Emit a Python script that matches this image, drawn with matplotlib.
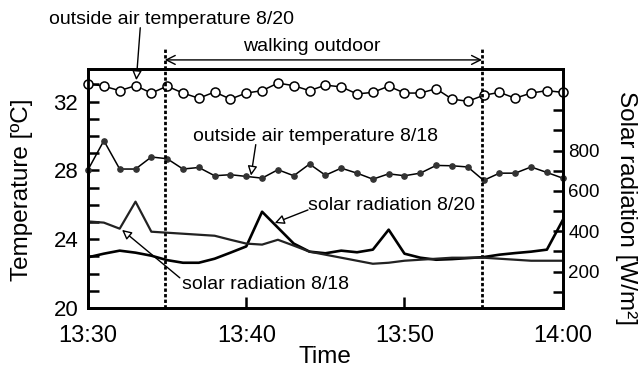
import numpy as np
import matplotlib
matplotlib.use("Agg")
import matplotlib.pyplot as plt
import matplotlib.transforms as mtransforms

plt.rcParams['font.family'] = ['Liberation Sans', 'DejaVu Sans']

# minutes after 13:30, sampled every minute
minutes = [0, 1, 2, 3, 4, 5, 6, 7, 8, 9, 10, 11, 12, 13, 14, 15,
           16, 17, 18, 19, 20, 21, 22, 23, 24, 25, 26, 27, 28, 29, 30]

# outside air temperature [degC]
temp_0820 = [33.05, 32.9, 32.64, 32.93, 32.5, 32.9, 32.5, 32.2, 32.56, 32.15, 32.5,
             32.64, 33.08, 32.93, 32.64, 32.96, 32.86, 32.45, 32.54, 32.9, 32.5,
             32.5, 32.75, 32.15, 32.02, 32.37, 32.54, 32.2, 32.5, 32.64, 32.54]
temp_0818 = [28.04, 29.73, 28.08, 28.08, 28.78, 28.68, 28.08, 28.17, 27.69, 27.75, 27.65,
             27.55, 28.04, 27.69, 28.37, 27.72, 28.13, 27.84, 27.49, 27.8, 27.69,
             27.84, 28.29, 28.27, 28.2, 27.42, 27.84, 27.84, 28.2, 27.88, 27.55]

# solar radiation [W/m2]
solar_0820 = [271, 289, 304, 294, 279, 257, 244, 244, 264, 294, 325,
              497, 418, 339, 299, 291, 304, 296, 309, 408, 289,
              269, 259, 262, 267, 272, 284, 292, 299, 309, 455]
solar_0818 = [449, 443, 413, 547, 398, 393, 388, 383, 378, 358, 339,
              334, 358, 329, 299, 284, 269, 254, 239, 244, 254,
              259, 264, 269, 269, 269, 264, 259, 254, 254, 254]

tick_minutes = [0, 10, 20, 30]
tick_labels = ["13:30", "13:40", "13:50", "14:00"]
walk_start, walk_end = 4.85, 24.9

fig = plt.figure(figsize=(6.38, 3.67), dpi=100)
ax = fig.add_axes([0.138, 0.161, 0.744, 0.651])
ax2 = ax.twinx()

# temperatures
ax.plot(minutes, temp_0820, color='black', lw=1.1, marker='o', ms=6.5,
        mfc='white', mec='black', mew=1.1, zorder=5, clip_on=False)
ax.plot(minutes, temp_0818, color='black', lw=1.1, marker='o', ms=3.8,
        mfc='#333333', mec='#333333', zorder=5, clip_on=False)

# solar radiation
ax2.plot(minutes, solar_0820, color='black', lw=1.9)
ax2.plot(minutes, solar_0818, color='#222222', lw=1.6)

ax.set_xlim(0, 30)
ax.set_ylim(20, 33.9)
ax2.set_ylim(20, 1205)

ax.set_xticks(tick_minutes)
ax.set_xticklabels(tick_labels)
ax.set_yticks([20, 24, 28, 32])
ax.set_yticks(range(20, 34), minor=True)
ax2.set_yticks([200, 400, 600, 800])
ax2.set_yticks(range(100, 1100, 100), minor=True)

for a in (ax, ax2):
    for s in a.spines.values():
        s.set_linewidth(2)
ax.tick_params(axis='x', direction='in', length=8, width=1.8, labelsize=17, pad=12)
ax.tick_params(axis='y', which='both', direction='in', length=8, width=1.8,
               labelsize=16, pad=7)
ax2.tick_params(axis='y', which='both', direction='in', length=7, width=1.8,
                labelsize=13.5, pad=4)

# walking period
trans = mtransforms.blended_transform_factory(ax.transData, ax.transAxes)
for xv in (walk_start, walk_end):
    ax.plot([xv, xv], [0, 1.084], transform=trans, color='black', lw=2,
            ls=(0, (1.2, 0.8)), clip_on=False, zorder=6)
ax.annotate('', xy=(walk_start, 1.038), xytext=(walk_end, 1.038),
            xycoords=trans, textcoords=trans,
            arrowprops=dict(arrowstyle='<->', lw=1, color='black',
                            mutation_scale=16, shrinkA=0, shrinkB=0))
ax.text(14.15, 1.096, "walking outdoor", transform=trans, ha='center',
        va='center', fontsize=14)

# labels with arrows
arrow = dict(arrowstyle='-|>', fc='white', ec='black', lw=1,
             mutation_scale=14, shrinkA=0, shrinkB=0)
ax.text(5.3, 36.8, "outside air temperature 8/20", ha='center', va='center',
        fontsize=14, clip_on=False)
ax.annotate('', xy=(3.05, 33.25), xytext=(3.3, 36.3), arrowprops=arrow,
            annotation_clip=False)
ax.text(14.37, 29.95, "outside air temperature 8/18", ha='center',
        va='center', fontsize=14)
ax.annotate('', xy=(10.3, 27.7), xytext=(10.6, 29.5), arrowprops=arrow)
ax.text(19.17, 25.93, "solar radiation 8/20", ha='center', va='center',
        fontsize=14)
ax.annotate('', xy=(11.8, 24.94), xytext=(13.9, 25.7), arrowprops=arrow)
ax.text(11.24, 21.34, "solar radiation 8/18", ha='center', va='center',
        fontsize=14)
ax.annotate('', xy=(2.15, 24.54), xytext=(5.8, 21.75), arrowprops=arrow)

fig.text(22 / 638, 1 - 190 / 367, "Temperature [ºC]", rotation=90,
         ha='center', va='center', fontsize=17.5)
fig.text(626 / 638, 1 - 208 / 367, "Solar radiation [W/m²]", rotation=270,
         ha='center', va='center', fontsize=17.5)
fig.text(325 / 638, 1 - 357 / 367, "Time", ha='center', va='center',
         fontsize=17.5)

fig.savefig("out.png", dpi=100)
